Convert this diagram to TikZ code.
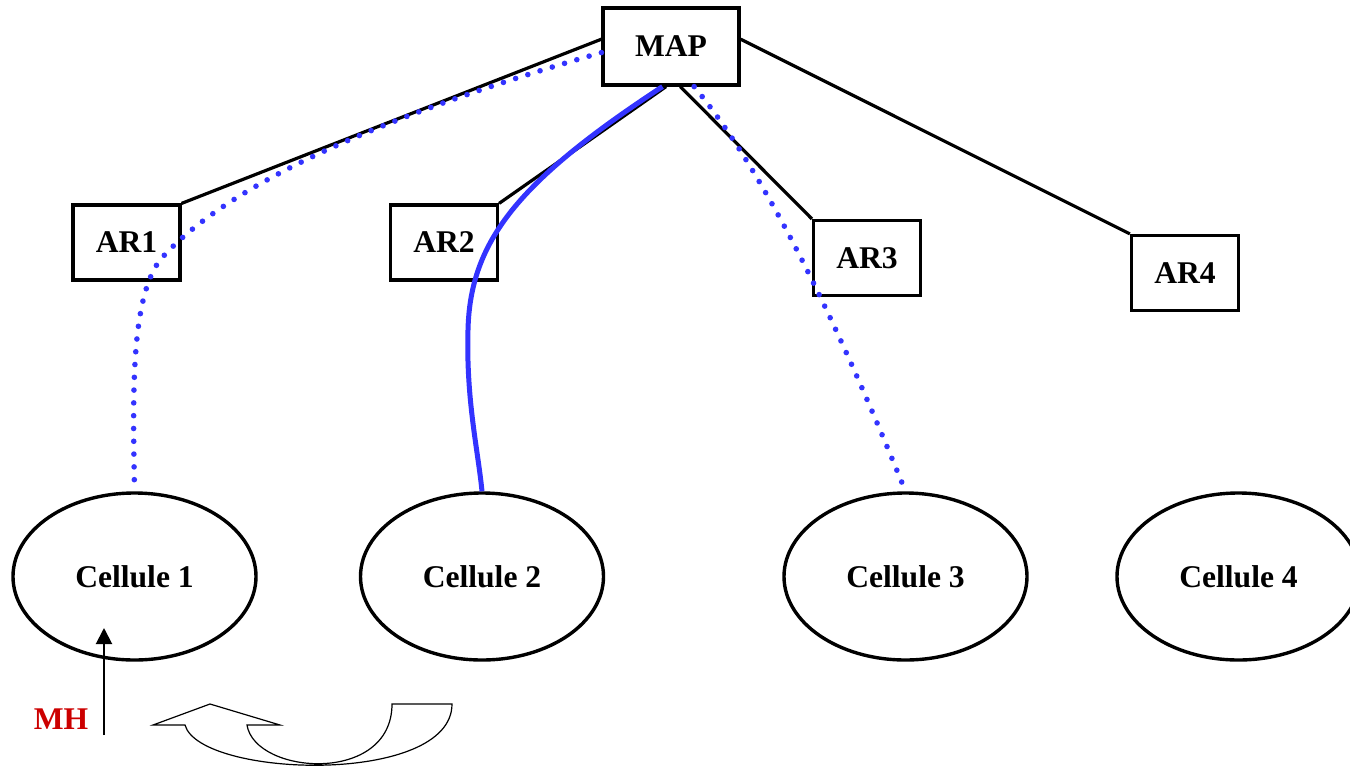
\documentclass[tikz,border=0pt]{standalone}
\usepackage{fontspec}
\setmainfont{Liberation Serif}
\usetikzlibrary{shapes.geometric,arrows.meta}
\definecolor{lineblue}{RGB}{51,51,255}
\definecolor{mhred}{RGB}{204,0,0}
\tikzset{
  lbl/.style={font=\fontsize{15.8}{18}\selectfont\bfseries},
  boxnode/.style={lbl,draw,line width=1.6pt,rectangle,inner sep=0pt,minimum width=53.5pt,minimum height=37.5pt},
  cellnode/.style={lbl,draw,line width=1.7pt,ellipse,inner sep=0pt,minimum width=121.5pt,minimum height=83.5pt},
  link/.style={line width=1.6pt},
  bluedot/.style={lineblue,line width=2.8pt,line cap=round,dash pattern=on 0pt off 6.4pt},
  bluesolid/.style={lineblue,line width=2.5pt},
}
\begin{document}
\begin{tikzpicture}[x=0.5pt,y=-0.5pt]
\useasboundingbox (0,0) rectangle (1350,767);
% boxes
\node[boxnode,minimum width=68pt,minimum height=38.5pt] (MAP) at (671,46.5) {MAP};
\node[boxnode] (AR1) at (126.5,242.5) {AR1};
\node[boxnode] (AR2) at (444,242.5) {AR2};
\node[boxnode] (AR3) at (867,258) {AR3};
\node[boxnode] (AR4) at (1185,273) {AR4};
% cells
\node[cellnode] (C1) at (134.5,576.5) {Cellule 1};
\node[cellnode] (C2) at (482,576.5) {Cellule 2};
\node[cellnode] (C3) at (905.5,576.5) {Cellule 3};
\node[cellnode] (C4) at (1238.5,576.5) {Cellule 4};
% black links
\draw[link] (MAP.174) -- (AR1.north east);
\draw[link] (MAP.263) -- (AR2.north east);
\draw[link] (MAP.283) -- (AR3.north west);
\draw[link] (MAP.6) -- (AR4.north west);
% blue paths
\draw[bluedot] (MAP.185) .. controls (400,110) and (230,180) .. (160,260)
   .. controls (130,300) and (133,400) .. (C1.north);
\draw[bluesolid] (MAP.258) .. controls (520,180) and (470,240) .. (468,330)
   .. controls (466,400) and (478,450) .. (C2.north);
\draw[bluedot] (MAP.300) .. controls (780,190) and (860,380) .. (C3.north);
% MH
\node[lbl,text=mhred] (MH) at (61,719) {MH};
\coordinate (mhs) at (104,735);
\coordinate (mhe) at (104,628);
\draw[line width=1pt,-{Triangle[length=8pt,width=8pt]}] (mhs) -- (mhe);
% hollow curved arrow
\draw[line width=0.6pt,line join=miter] (153,725) -- (210,704) -- (280,725) -- (247,725)
  .. controls (255,775) and (392,785) .. (392,704) -- (452,704)
  .. controls (452,786) and (200,778) .. (185,725) -- cycle;
\end{tikzpicture}
\end{document}
